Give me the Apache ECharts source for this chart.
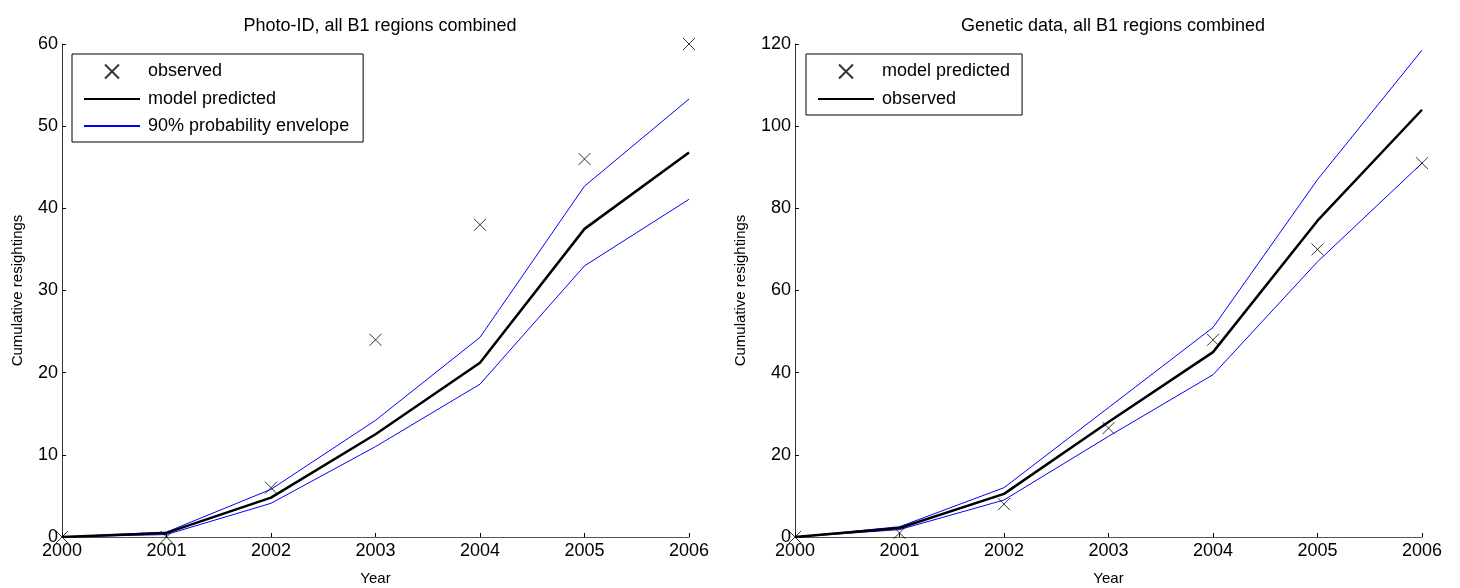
<!DOCTYPE html>
<html>
<head>
<meta charset="utf-8">
<script src="https://cdn.jsdelivr.net/npm/echarts@6/dist/echarts.min.js"></script>
<style>
html,body{margin:0;padding:0;background:#fff;}
#chart{width:1460px;height:588px;}
</style>
</head>
<body>
<div id="chart"></div>
<script>
// Data
const years = ['2000','2001','2002','2003','2004','2005','2006'];

// Left panel: Photo-ID
const photoObserved = [0, 0, 6, 24, 38, 46, 60];
const photoModel    = [0, 0.5, 4.8, 12.5, 21.2, 37.5, 46.8];
const photoUpper    = [0, 0.6, 5.8, 14.2, 24.3, 42.7, 53.3];
const photoLower    = [0, 0.3, 4.1, 11.0, 18.6, 33.0, 41.1];

// Right panel: Genetic data
const geneMarkers = [0, 1, 8, 26.5, 48, 70, 91];
const geneLine    = [0, 2.2, 10.5, 28, 45, 77, 104];
const geneUpper   = [0, 2.5, 12, 31.5, 51, 87, 118.5];
const geneLower   = [0, 1.8, 9, 24.5, 39.5, 67, 91];

const titles = ['Photo-ID, all B1 regions combined', 'Genetic data, all B1 regions combined'];
const xName = 'Year';
const yName = 'Cumulative resightings';

const FONT = "'Liberation Sans', Arial, sans-serif";
const X_PATH = 'path://M0,0L10,10M10,0L0,10';

const chart = echarts.init(document.getElementById('chart'));

function xAxis(idx) {
  return {
    type: 'category', gridIndex: idx, data: years, boundaryGap: false,
    name: xName, nameLocation: 'middle', nameGap: 34,
    nameTextStyle: {color: '#000', fontSize: 15, fontFamily: FONT},
    axisLine: {lineStyle: {color: '#555', width: 1}},
    axisTick: {inside: true, length: 4, lineStyle: {color: '#000'}},
    axisLabel: {color: '#000', fontSize: 18, fontFamily: FONT, margin: 5, showMinLabel: true, showMaxLabel: true},
    splitLine: {show: false}
  };
}
function yAxis(idx, max, interval, gap) {
  return {
    type: 'value', gridIndex: idx, min: 0, max: max, interval: interval,
    name: yName, nameLocation: 'middle', nameGap: gap, nameRotate: 90,
    nameTextStyle: {color: '#000', fontSize: 15, fontFamily: FONT},
    axisLine: {show: true, lineStyle: {color: '#333', width: 1}},
    axisTick: {show: true, inside: true, length: 4, lineStyle: {color: '#000'}},
    axisLabel: {color: '#000', fontSize: 18, fontFamily: FONT, margin: 4},
    splitLine: {show: false}
  };
}
function markerSeries(name, idx, data) {
  return {
    name: name, type: 'scatter', xAxisIndex: idx, yAxisIndex: idx, data: data,
    symbol: X_PATH, symbolSize: 12, symbolKeepAspect: true,
    itemStyle: {color: 'none', borderColor: '#000', borderWidth: 1},
    z: 5, silent: true
  };
}
function lineSeries(name, idx, data, color, width, z) {
  return {
    name: name, type: 'line', xAxisIndex: idx, yAxisIndex: idx, data: data,
    symbol: 'none', showSymbol: false,
    lineStyle: {color: color, width: width},
    itemStyle: {color: color},
    z: z, silent: true
  };
}

const legendBase = {
  orient: 'vertical',
  backgroundColor: '#fff', borderColor: '#000', borderWidth: 1,
  itemWidth: 56, itemHeight: 14, itemGap: 9,
  textStyle: {color: '#000', fontSize: 18, fontFamily: FONT, padding: [0, 0, 0, 3]},
  selectedMode: false
};
const hideSym = {opacity: 0};

chart.setOption({
  animation: false,
  backgroundColor: '#fff',
  title: [
    {text: titles[0], left: 375, top: 12, textAlign: 'center',
     textStyle: {color: '#000', fontSize: 18, fontWeight: 'normal', fontFamily: FONT}},
    {text: titles[1], left: 1108, top: 12, textAlign: 'center',
     textStyle: {color: '#000', fontSize: 18, fontWeight: 'normal', fontFamily: FONT}}
  ],
  legend: [
    Object.assign({}, legendBase, {
      left: 72, top: 54, padding: [8, 14, 7, 11],
      data: [
        {name: 'observed'},
        {name: 'model predicted', itemStyle: hideSym},
        {name: '90% probability envelope', itemStyle: hideSym}
      ]
    }),
    Object.assign({}, legendBase, {
      left: 806, top: 54, padding: [8, 12, 7, 11],
      data: [
        {name: 'model predicted (g)'},
        {name: 'observed (g)', itemStyle: hideSym}
      ],
      formatter: function (n) { return n.replace(' (g)', ''); }
    })
  ],
  grid: [
    {left: 62, right: 771, top: 44, bottom: 51, containLabel: false, outerBoundsMode: 'none'},
    {left: 795, right: 38, top: 44, bottom: 51, containLabel: false, outerBoundsMode: 'none'}
  ],
  xAxis: [xAxis(0), xAxis(1)],
  yAxis: [yAxis(0, 60, 10, 37), yAxis(1, 120, 20, 47)],
  series: [
    lineSeries('90% probability envelope', 0, photoUpper, '#0000ff', 1, 2),
    lineSeries('90% probability envelope', 0, photoLower, '#0000ff', 1, 2),
    lineSeries('model predicted', 0, photoModel, '#000', 2.5, 3),
    markerSeries('observed', 0, photoObserved),
    lineSeries('envelope (g)', 1, geneUpper, '#0000ff', 1, 2),
    lineSeries('envelope (g)', 1, geneLower, '#0000ff', 1, 2),
    lineSeries('observed (g)', 1, geneLine, '#000', 2.5, 3),
    markerSeries('model predicted (g)', 1, geneMarkers)
  ]
});
</script>
</body>
</html>
